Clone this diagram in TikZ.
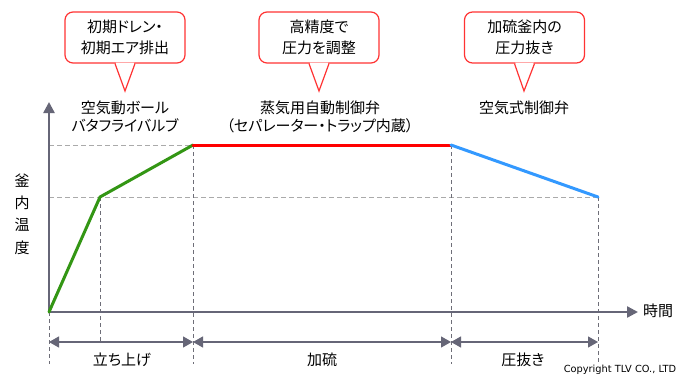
\documentclass[tikz,border=0pt]{standalone}
\usepackage{fontspec}
\setmainfont{Noto Sans CJK JP}[RawFeature=+palt]
\newfontfamily\copyfont{DejaVu Sans}
\usetikzlibrary{arrows.meta,calc}
\definecolor{axisgray}{RGB}{102,102,119}
\definecolor{dashgray}{RGB}{170,170,170}
\definecolor{vdashgray}{RGB}{110,110,120}
\definecolor{curvegreen}{RGB}{51,150,20}
\definecolor{curvered}{RGB}{255,0,0}
\definecolor{curveblue}{RGB}{51,153,255}
\definecolor{calloutred}{RGB}{255,51,51}
\tikzset{
  axisline/.style={draw=axisgray,line width=2.4pt,-{Triangle[length=11pt,width=11pt]}},
  dimline/.style={draw=axisgray,line width=1.2pt,{Triangle[length=10pt,width=11pt]}-{Triangle[length=10pt,width=11pt]}},
  hdash/.style={draw=dashgray,line width=1pt,dash pattern=on 5pt off 3pt},
  vdash/.style={draw=vdashgray,line width=0.8pt,dash pattern=on 4pt off 3pt},
  curve/.style={line width=3pt,line cap=round,line join=round},
  calloutbox/.style={draw=calloutred,line width=1.2pt,fill=white,rounded corners=8pt,
    minimum width=120pt,minimum height=51pt,align=center,inner sep=0pt,
    font=\fontsize{15}{21}\selectfont},
  pointer/.style={draw=calloutred,line width=1.2pt,line join=miter},
  label/.style={align=center,inner sep=0pt,font=\fontsize{15}{18}\selectfont},
}
\begin{document}
\begin{tikzpicture}[x=1pt,y=-1pt]
\useasboundingbox[fill=white] (0,0) rectangle (690,380);

% key points
\coordinate (O) at (49,312);
\coordinate (Ytip) at (49,102);
\coordinate (Xtip) at (638,312);
\coordinate (P1) at (100,197);
\coordinate (P2) at (193,145);
\coordinate (P3) at (451,145);
\coordinate (P4) at (598,197);
\coordinate (H1) at (49,145);
\coordinate (H2) at (49,197);
\coordinate (V0) at (49,364);
\coordinate (V1) at (100,343);
\coordinate (V2) at (193,364);
\coordinate (V3) at (451,364);
\coordinate (V4) at (598,364);
\coordinate (D0) at (49,342);
\coordinate (D1) at (193,342);
\coordinate (D2) at (451,342);
\coordinate (D3) at (598,342);

% dashed guides
\draw[hdash] (H1) -- (P2);
\draw[hdash] (H2) -- (P4);
\draw[vdash] (O) -- (V0);
\draw[vdash] (P1) -- (V1);
\draw[vdash] (P2) -- (V2);
\draw[vdash] (P3) -- (V3);
\draw[vdash] (P4) -- (V4);

% axes
\draw[axisline] (O) -- (Ytip);
\draw[axisline] (O) -- (Xtip);

% dimension arrows
\draw[dimline] (D0) -- (D1);
\draw[dimline] (D1) -- (D2);
\draw[dimline] (D2) -- (D3);

% curve
\draw[curve,draw=curvegreen] (O) -- (P1) -- (P2);
\draw[curve,draw=curvered] (P2) -- (P3);
\draw[curve,draw=curveblue] (P3) -- (P4);

% axis labels
\node[label,font=\fontsize{15}{22.3}\selectfont] (ylab) at (22,214) {釜\\内\\温\\度};
\node[label,anchor=west] (xlab) at (643,311) {時間};

% phase labels
\node[label] (ph1) at (122,360) {立ち上げ};
\node[label] (ph2) at (322,360) {加硫};
\node[label] (ph3) at (523,360) {圧抜き};

% equipment labels
\node[label] (eq1) at (125,116.5) {空気動ボール\\バタフライバルブ};
\node[label] (eq2) at (320,116.5) {蒸気用自動制御弁\\（セパレーター・トラップ内蔵）};
\node[label] (eq3) at (524,108) {空気式制御弁};

% callouts
\node[calloutbox] (c1) at (125,37.5) {初期ドレン・\\初期エア排出};
\node[calloutbox] (c2) at (319,37.5) {高精度で\\圧力を調整};
\node[calloutbox] (c3) at (524.5,37.5) {加硫釜内の\\圧力抜き};
\coordinate (t1) at (125,91);
\coordinate (t2) at (319,91);
\coordinate (t3) at (524,91);
\foreach \c/\t in {c1/t1,c2/t2,c3/t3}{
  \fill[white] ($(\c.south)+(-9.3,-1)$) -- (\t) -- ($(\c.south)+(9.3,-1)$) -- cycle;
  \draw[pointer] ($(\c.south)+(-10,0)$) -- (\t) -- ($(\c.south)+(10,0)$);
}

% copyright
\node[inner sep=0pt,font=\copyfont\fontsize{9.8}{11}\selectfont] (copy) at (620,370) {Copyright TLV CO., LTD};
\end{tikzpicture}
\end{document}
